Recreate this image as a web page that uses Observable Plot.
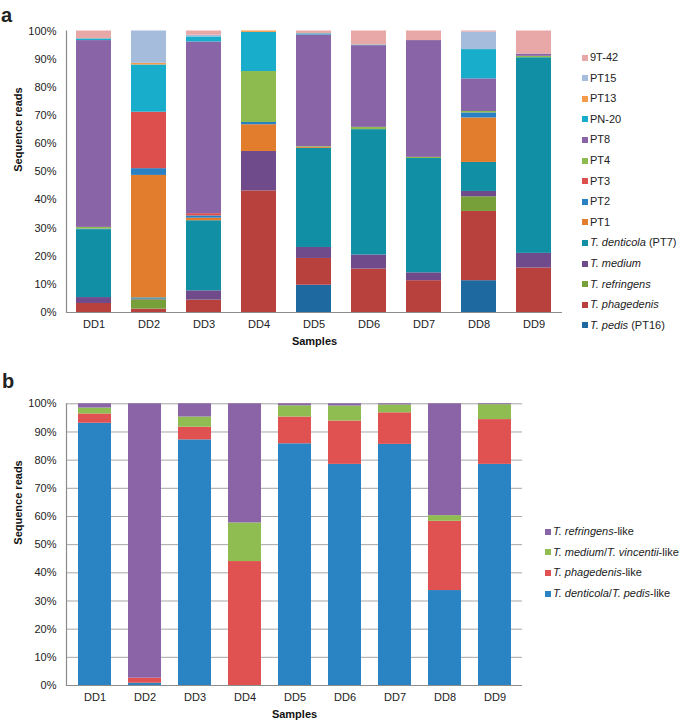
<!DOCTYPE html>
<html>
<head>
<meta charset="utf-8">
<script src="https://cdn.jsdelivr.net/npm/d3@7"></script>
<script src="https://cdn.jsdelivr.net/npm/@observablehq/plot@0.6"></script>
<style>
  html, body { margin: 0; padding: 0; background: #fff; }
  #root { position: relative; width: 680px; height: 723px; font-family: "Liberation Sans", Arial, sans-serif; color: #222; overflow: hidden; }
  .panel { position: absolute; left: 0; }
  .tag { position: absolute; font-weight: bold; font-size: 20px; line-height: 1; }
  .legend { position: absolute; font-size: 11px; line-height: 1; }
  .legend .item { position: absolute; white-space: nowrap; display: flex; align-items: center; }
  .legend .sw { width: 6px; height: 6px; margin-right: 2px; display: inline-block; }
</style>
</head>
<body>
<div id="root"></div>
<script>
// ---------- data ----------
const samples = ["DD1", "DD2", "DD3", "DD4", "DD5", "DD6", "DD7", "DD8", "DD9"];
const yTicks = [0, 0.1, 0.2, 0.3, 0.4, 0.5, 0.6, 0.7, 0.8, 0.9, 1];

// Panel a: series from bottom of stack to top (percent of reads per sample)
const seriesA = ["T. pedis (PT16)", "T. phagedenis", "T. refringens", "T. medium", "T. denticola (PT7)",
  "PT1", "PT2", "PT3", "PT4", "PT8", "PN-20", "PT13", "PT15", "9T-42"];
const tPedis      = [0,    0,    0,    0,    9.7,  0,    0,    11.3, 0];
const tPhagedenis = [3.2,  1.2,  4.4,  43.2, 9.5,  15.4, 11.3, 24.6, 15.8];
const tRefringens = [0,    3.3,  0,    0,    0,    0,    0,    5.2,  0];
const tMedium     = [2.1,  0.3,  3.3,  14.0, 3.9,  5.0,  2.8,  1.9,  5.2];
const tDenticola  = [24.1, 0.4,  24.9, 0,    35.2, 44.5, 40.6, 10.3, 69.5];
const pt1         = [0,    43.6, 0.9,  9.5,  0.3,  0,    0,    15.8, 0];
const pt2         = [0.2,  2.4,  0.8,  0.8,  0,    0,    0,    1.8,  0];
const pt3         = [0,    20.1, 0.8,  0,    0,    0,    0,    0,    0];
const pt4         = [0.6,  0,    0,    18.1, 0.3,  0.8,  0.4,  0.5,  0.5];
const pt8         = [66.3, 0,    61.0, 0,    39.7, 29.0, 41.5, 11.6, 0.8];
const pn20        = [0.6,  16.8, 1.8,  13.9, 0.4,  0.2,  0,    10.4, 0];
const pt13        = [0,    0.6,  0,    0.5,  0,    0,    0,    0,    0];
const pt15        = [0,    11.5, 0.6,  0,    0,    0,    0,    6.2,  0];
const t9_42       = [2.8,  0,    1.5,  0,    1.0,  5.0,  3.4,  0.4,  8.2];
const valuesA = [tPedis, tPhagedenis, tRefringens, tMedium, tDenticola, pt1, pt2, pt3, pt4, pt8, pn20, pt13, pt15, t9_42];
const colorsA = ["#1f69a1", "#b8403d", "#77a03b", "#6f4b8b", "#118fa4", "#e37d2e", "#2980c2",
  "#dc4f4d", "#8ebb4f", "#8964a7", "#18aecb", "#f5994a", "#a5bcdc", "#e8a8a8"];

// Panel b: series from bottom of stack to top
const seriesB = ["T. denticola/T. pedis-like", "T. phagedenis-like", "T. medium/T. vincentii-like", "T. refringens-like"];
const denticolaPedisLike = [93.1, 0.8,  87.2, 0,    85.8, 78.5, 85.6, 33.7, 78.5];
const phagedenisLike     = [3.3,  1.8,  4.5,  44.0, 9.5,  15.4, 11.2, 24.6, 15.9];
const mediumVincentiLike = [2.1,  0,    3.6,  13.7, 4.0,  5.3,  2.8,  2.0,  5.3];
const refringensLike     = [1.5,  97.4, 4.7,  42.3, 0.7,  0.8,  0.4,  39.7, 0.3];
const valuesB = [denticolaPedisLike, phagedenisLike, mediumVincentiLike, refringensLike];
const colorsB = ["#2a83c3", "#e05252", "#8fbd52", "#8a64a6"];

// ---------- build ----------
function longData(series, values) {
  const out = [];
  series.forEach((s, i) => samples.forEach((smp, j) => out.push({sample: smp, series: s, value: values[i][j]})));
  return out;
}

const root = document.getElementById("root");
const AXIS = "#8c8c8c";

function makePanel({series, values, colors, width, height, marginRight, marginTop, grid}) {
  const data = longData(series, values);
  const marks = [];
  if (grid) marks.push(Plot.ruleY(yTicks, {stroke: "#a6a6a6", strokeWidth: 1}));
  marks.push(
    Plot.barY(data, {x: "sample", y: "value", fill: "series", offset: "normalize"}),
    Plot.ruleY([0], {stroke: AXIS, strokeWidth: 1.2}),
    Plot.frame({anchor: "left", stroke: AXIS, strokeWidth: 1.2}),
    Plot.axisY({ticks: yTicks, tickFormat: d3.format(".0%"), tickSize: 0, tickPadding: 10, label: null, fontSize: 11}),
    Plot.axisX({tickSize: 0, tickPadding: 8, label: null, fontSize: 11}),
    Plot.text(["Samples"], {frameAnchor: "bottom", dy: 32, fontWeight: "bold", fontSize: 11, fill: "#111"}),
    Plot.text(["Sequence reads"], {frameAnchor: "left", dx: -48, rotate: -90, fontWeight: "bold", fontSize: 11, fill: "#111"})
  );
  return Plot.plot({
    width, height,
    marginLeft: 66, marginRight, marginTop, marginBottom: 38,
    style: {fontFamily: "Liberation Sans, Arial, sans-serif", fontSize: "11px", color: "#222", background: "white"},
    x: {domain: samples, paddingInner: grid ? 0.35 : 0.36, paddingOuter: grid ? 0.175 : 0.18},
    y: {domain: [0, 1]},
    color: {domain: series, range: colors},
    marks
  });
}

function italicize(name) {
  return name.replace(/(T\. [a-z]+)/g, "<i>$1</i>");
}

function legend(series, colors, left, top, step) {
  const div = document.createElement("div");
  div.className = "legend";
  div.style.left = left + "px";
  div.style.top = top + "px";
  series.slice().reverse().forEach((s, k) => {
    const i = series.length - 1 - k;
    const it = document.createElement("div");
    it.className = "item";
    it.style.top = (k * step - 6) + "px";
    it.innerHTML = `<span class="sw" style="background:${colors[i]}"></span><span>${italicize(s)}</span>`;
    div.appendChild(it);
  });
  return div;
}

// Panel a
const pa = document.createElement("div");
pa.className = "panel"; pa.style.top = "0px";
pa.appendChild(makePanel({series: seriesA, values: valuesA, colors: colorsA, width: 680, height: 350, marginRight: 118, marginTop: 30.5, grid: false}));
root.appendChild(pa);
root.appendChild(legend(seriesA, colorsA, 582, 58, 20.6));
const ta = document.createElement("div"); ta.className = "tag"; ta.textContent = "a"; ta.style.left = "1px"; ta.style.top = "5px";
root.appendChild(ta);

// Panel b
const pb = document.createElement("div");
pb.className = "panel"; pb.style.top = "360px";
pb.appendChild(makePanel({series: seriesB, values: valuesB, colors: colorsB, width: 680, height: 363, marginRight: 158, marginTop: 43.3, grid: true}));
root.appendChild(pb);
root.appendChild(legend(seriesB, colorsB, 545, 532, 20.7));
const tb = document.createElement("div"); tb.className = "tag"; tb.textContent = "b"; tb.style.left = "2px"; tb.style.top = "371px";
root.appendChild(tb);
</script>
</body>
</html>
